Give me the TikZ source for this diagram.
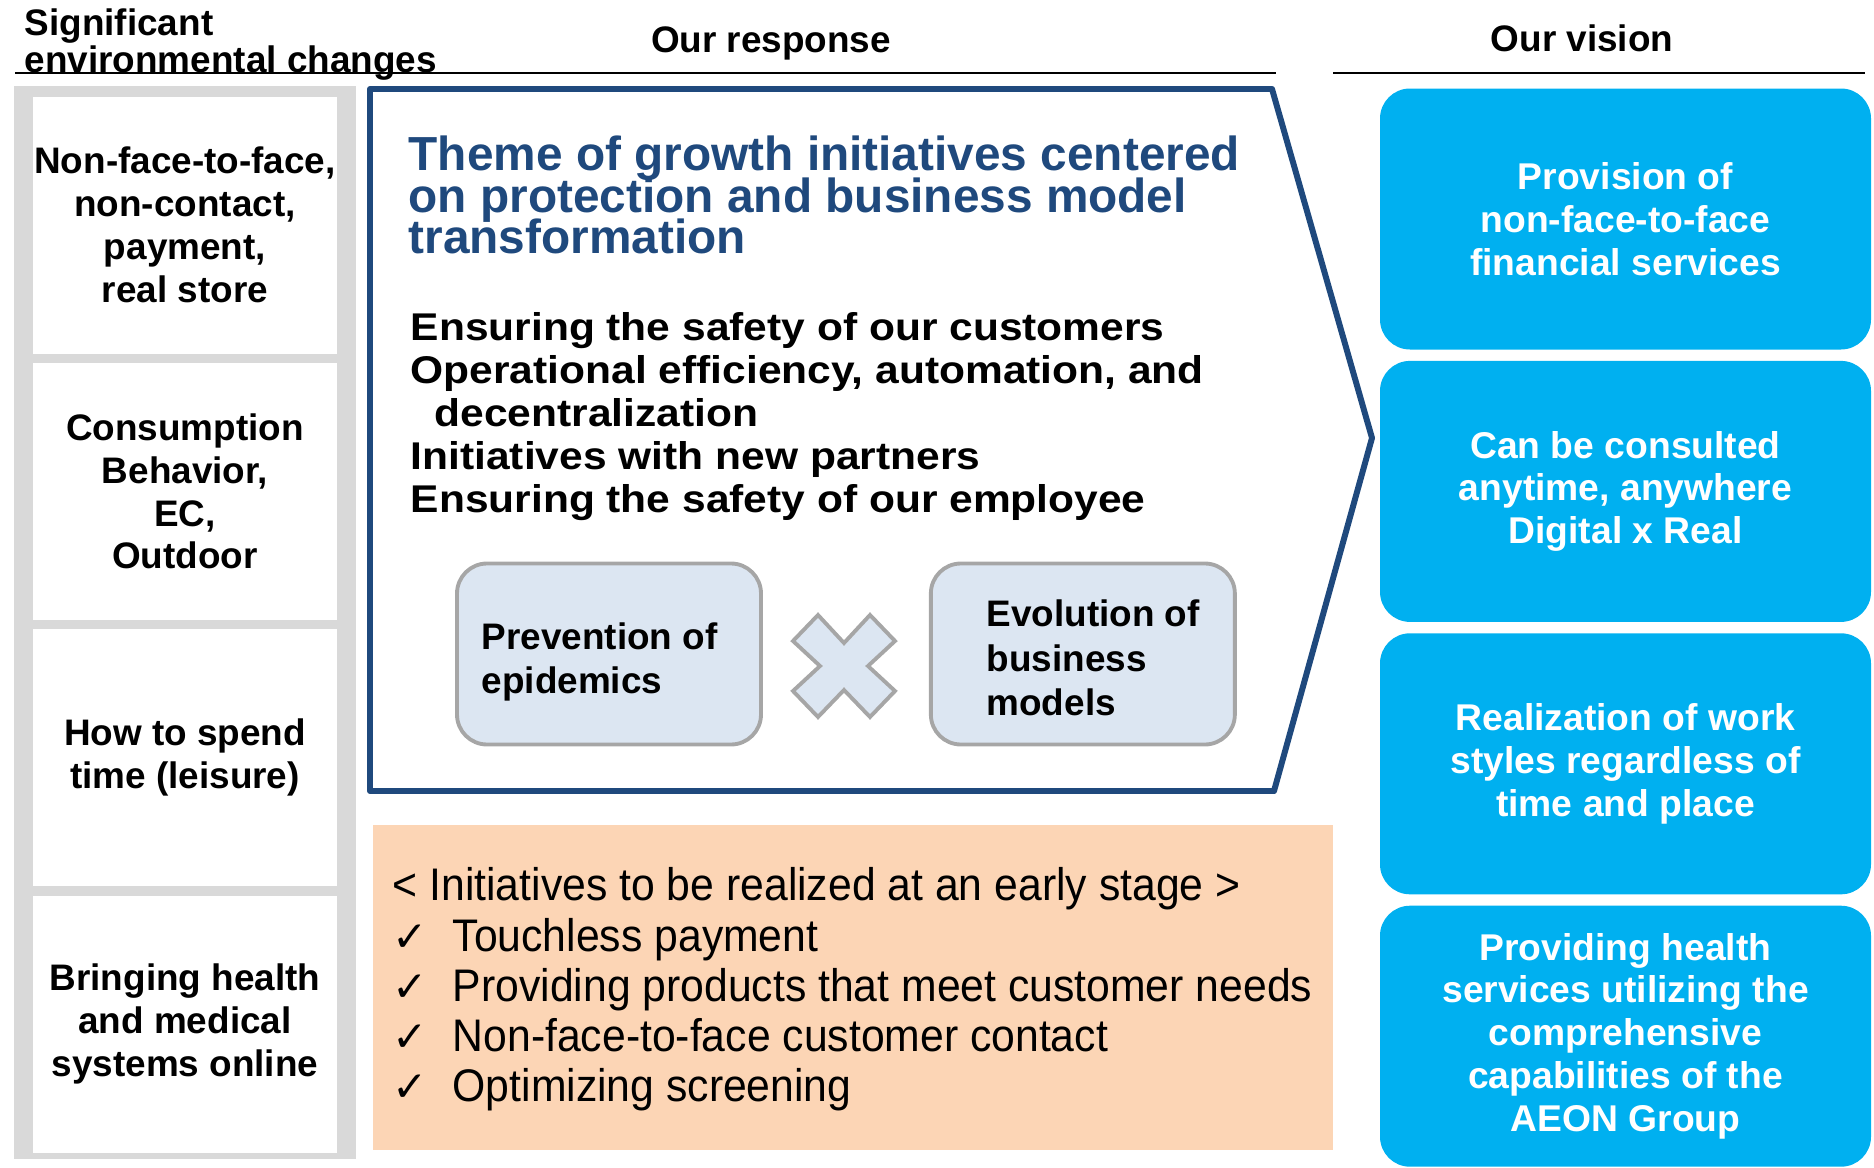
\documentclass[tikz,border=0pt]{standalone}
\usepackage{fontspec}
\setmainfont{Liberation Sans}
\newfontfamily\narrowfont[FakeStretch=0.935]{Liberation Sans}
\newfontfamily\widefont[FakeStretch=1.1]{Liberation Sans}
\newfontfamily\tickfont{DejaVu Sans}
\usepackage{tikz}
\usetikzlibrary{positioning}

% tight line spacing without TeX pushing lines apart
\setlength{\lineskiplimit}{-\maxdimen}

\definecolor{navy}{RGB}{31,73,125}
\definecolor{skyblue}{RGB}{0,176,240}
\definecolor{peach}{RGB}{252,213,181}
\definecolor{paleblue}{RGB}{220,230,242}
\definecolor{midgray}{RGB}{166,166,166}
\definecolor{colgray}{RGB}{217,217,217}

% check mark in front of each early initiative
\newcommand{\tick}{\makebox[6mm][l]{\tickfont\fontsize{12}{12}\selectfont ✓}}

\tikzset{
    heading/.style={
           inner sep=0pt,
           font=\fontsize{10.5}{10.5}\selectfont\bfseries,
           },
    change/.style={
           rectangle,
           fill=white,
           minimum width=30.4mm,
           minimum height=25.7mm,
           inner sep=0pt,
           align=center,
           font=\fontsize{10.5}{12.2}\selectfont\bfseries,
           },
    vision/.style={
           rectangle,
           rounded corners=3mm,
           fill=skyblue,
           minimum width=49.1mm,
           minimum height=26.1mm,
           inner sep=0pt,
           align=center,
           text=white,
           font=\fontsize{10.6}{12.2}\selectfont\bfseries,
           },
    factor/.style={
           rectangle,
           rounded corners=3mm,
           draw=midgray, line width=1.1pt,
           fill=paleblue,
           minimum width=30.4mm,
           minimum height=18.1mm,
           },
    factortext/.style={
           anchor=west,
           inner sep=0pt,
           align=left,
           font=\fontsize{10.5}{12.7}\selectfont\bfseries,
           },
}

\begin{document}
\begin{tikzpicture}[x=0.1mm,y=-0.1mm]

 \useasboundingbox (0,0) rectangle (1874,1168);

 % column headings and their rules
 \node[heading, anchor=north west, align=left] (Changes) at (24,8)
 {Significant\\environmental changes};
 \node[heading, anchor=base] (Response) at (771,52) {Our response};
 \node[heading, anchor=base] (Vision) at (1582,51) {Our vision};

 \coordinate (rule left) at (15,73);
 \coordinate (rule mid) at (1276,73);
 \coordinate (rule right a) at (1333,73);
 \coordinate (rule right b) at (1865,73);
 \draw[line width=0.8pt] (rule left) -- (rule mid);
 \draw[line width=0.8pt] (rule right a) -- (rule right b);

 % gray column with the four changes stacked on it
 \fill[colgray] (14,86) rectangle (356,1159);

 \node[change] (Change1) at (185,225)
 {Non-face-to-face,\\non-contact,\\payment,\\real store};
 \node[change, below=0.8mm of Change1] (Change2)
 {Consumption\\Behavior,\\EC,\\Outdoor};
 \node[change, below=0.8mm of Change2] (Change3)
 {How to spend\\time (leisure)};
 \node[change, below=0.8mm of Change3] (Change4)
 {Bringing health\\and medical\\systems online};

 % pentagon arrow around the response
 \draw[navy, line width=1.7pt, line join=round]
  (370,89) -- (1272,89) -- (1372,438) -- (1274,791) -- (370,791) -- cycle;

 \node[anchor=north west, inner sep=0pt, align=left, text=navy,
  font=\fontsize{13.6}{11.9}\selectfont\bfseries] (Theme) at (408,135)
 {Theme of growth initiatives centered\\on protection and business model\\transformation};

 \node[anchor=north west, inner sep=0pt, align=left,
  font=\widefont\bfseries\fontsize{11}{12.2}\selectfont] (Aims) at (410,312)
 {Ensuring the safety of our customers\\
  Operational efficiency, automation, and\\
  \hspace*{2.4mm}decentralization\\
  Initiatives with new partners\\
  Ensuring the safety of our employee};

 % the two factors multiplied together
 \node[factor] (Prevention) at (609,654) {};
 \node[factor, right=16.6mm of Prevention] (Evolution) {};
 \node[factortext] (Prevention text) at ([xshift=2.6mm,yshift=-0.8mm]Prevention.west)
 {Prevention of\\epidemics};
 \node[factortext] (Evolution text) at ([xshift=5.7mm,yshift=-0.4mm]Evolution.west)
 {Evolution of\\business\\models};

 \coordinate (Times) at (844,666);
 \draw[shift={(Times)}, draw=midgray, line width=1.1pt, fill=paleblue, line join=miter]
  (0,-23) -- (26,-51) -- (51,-25) -- (24,0) -- (51,25) -- (26,51) -- (0,24)
  -- (-26,51) -- (-51,25) -- (-24,0) -- (-51,-25) -- (-26,-51) -- cycle;

 % early stage initiatives
 \node[fill=peach, minimum width=96mm, minimum height=32.5mm, inner sep=0pt]
 (Early) at (853,987.5) {};
 \node[anchor=north west, inner sep=0pt, align=left,
  font=\narrowfont\fontsize{13}{14.3}\selectfont] (Early list) at (392,867)
 {< Initiatives to be realized at an early stage >\\
  \tick Touchless payment\\
  \tick Providing products that meet customer needs\\
  \tick Non-face-to-face customer contact\\
  \tick Optimizing screening};

 % vision boxes on the right
 \node[vision] (Vision1) at (1625.5,219)
 {Provision of\\non-face-to-face\\financial services};
 \node[vision, below=1mm of Vision1] (Vision2)
 {Can be consulted\\anytime, anywhere\\Digital x Real};
 \node[vision, below=1mm of Vision2] (Vision3)
 {Realization of work\\styles regardless of\\time and place};
 \node[vision, below=1mm of Vision3] (Vision4)
 {Providing health\\services utilizing the\\comprehensive\\capabilities of the\\AEON Group};

\end{tikzpicture}
\end{document}
